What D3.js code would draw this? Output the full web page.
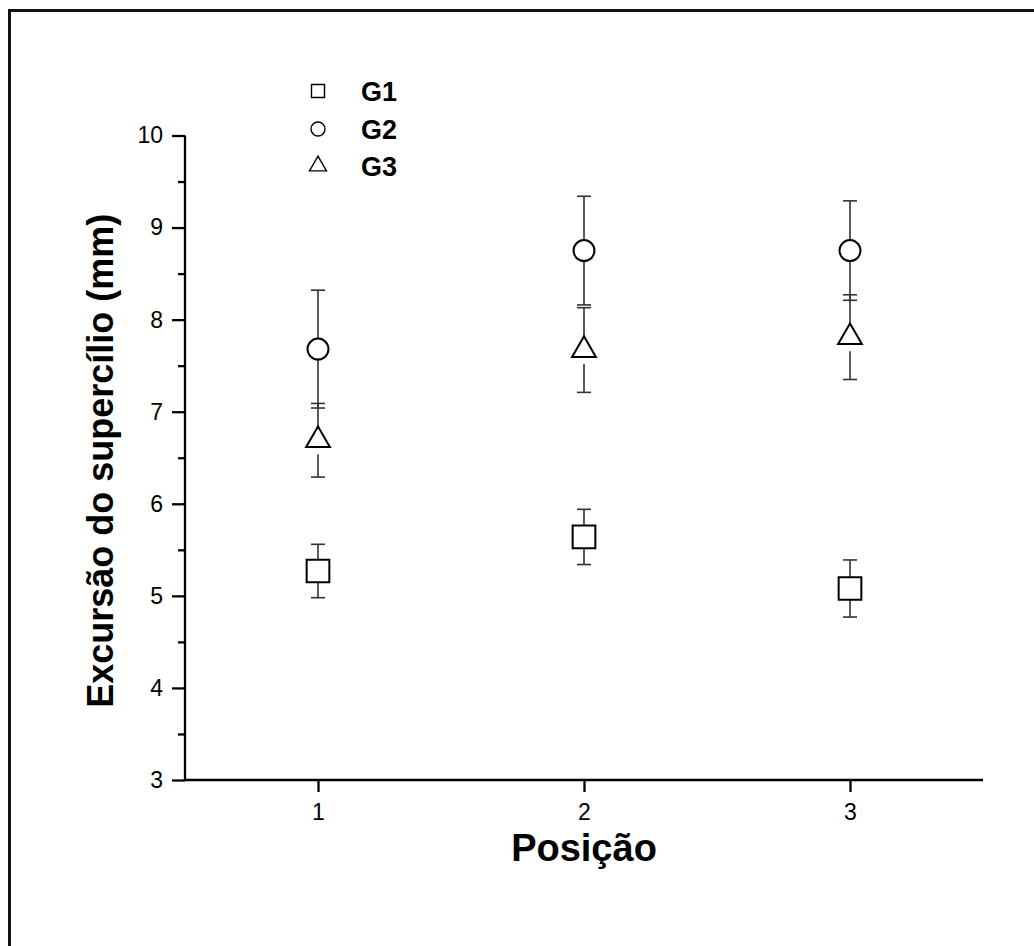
<!DOCTYPE html>
<html>
<head>
<meta charset="utf-8">
<script src="https://cdn.jsdelivr.net/npm/d3@7"></script>
<style>
  html, body { margin: 0; padding: 0; background: #fff; }
  svg { display: block; font-family: Arial, "Liberation Sans", Helvetica, sans-serif; }
</style>
</head>
<body>
<svg id="chart" width="1034" height="946"></svg>
<script>
// Brow excursion (mm) by position for three groups: mean ± error
const positions = [1, 2, 3];
const groupNames = ["G1", "G2", "G3"];
const g1Mean = [5.27, 5.64, 5.08];
const g1Err  = [0.29, 0.30, 0.31];
const g2Mean = [7.68, 8.75, 8.75];
const g2Err  = [0.64, 0.59, 0.54];
const g3Mean = [6.69, 7.67, 7.81];
const g3Err  = [0.40, 0.46, 0.46];
const yTicks = [3, 4, 5, 6, 7, 8, 9, 10];
const xTicks = [1, 2, 3];

const FONT = 'Arial, "Liberation Sans", Helvetica, sans-serif';
const svg = d3.select("#chart");

// frame around the figure
svg.append("rect")
  .attr("x", 9.5).attr("y", 10.5)
  .attr("width", 1200).attr("height", 1200)
  .attr("fill", "none").attr("stroke", "#111").attr("stroke-width", 3);

const x = d3.scaleLinear().domain([0.5, 3.5]).range([185, 983]);
const y = d3.scaleLinear().domain([3, 10]).range([780, 135.5]);

// marker definitions (symbol type, area, half-extent along the error bar)
const markers = {
  G1: { type: d3.symbolSquare,   size: 515, ext: 11.3 },
  G2: { type: d3.symbolCircle,   size: 346, ext: 10.5 },
  G3: { type: d3.symbolTriangle, size: 245, ext: 14 }
};

const series = [
  { name: "G1", mean: g1Mean, err: g1Err },
  { name: "G2", mean: g2Mean, err: g2Err },
  { name: "G3", mean: g3Mean, err: g3Err }
];

// axes
const yAxis = svg.append("g").attr("transform", `translate(${x(0.5)},0)`)
  .call(d3.axisLeft(y).tickValues(yTicks).tickSize(13).tickPadding(9).tickFormat(d3.format("d")));
const yMinor = svg.append("g").attr("transform", `translate(${x(0.5)},0)`)
  .call(d3.axisLeft(y).tickValues(d3.range(3.5, 10, 1)).tickSize(7).tickFormat(""));
const xAxis = svg.append("g").attr("transform", `translate(0,${y(3)})`)
  .call(d3.axisBottom(x).tickValues(xTicks).tickSize(12).tickPadding(12).tickFormat(d3.format("d")));

[yAxis, yMinor, xAxis].forEach(g => {
  g.attr("font-family", FONT).attr("font-size", 23);
  g.select(".domain").attr("stroke", "#000").attr("stroke-width", 2.3);
  g.selectAll(".tick line").attr("stroke", "#000").attr("stroke-width", 2.3);
  g.selectAll(".tick text").attr("fill", "#000");
});
// axes in this style have no end caps on the domain path
yAxis.select(".domain").attr("d", `M0,${y(10)}V${y(3)}`);
yMinor.select(".domain").remove();
xAxis.select(".domain").attr("d", `M${x(0.5)},0H${x(3.5)}`);

// axis titles
svg.append("text")
  .attr("transform", `translate(113,${(y(3) + y(10)) / 2 + 3}) rotate(-90)`)
  .attr("text-anchor", "middle")
  .style("font-size", "36px").style("font-weight", "bold")
  .text("Excursão do supercílio (mm)");
svg.append("text")
  .attr("x", x(2)).attr("y", 861)
  .attr("text-anchor", "middle")
  .style("font-size", "38px").style("font-weight", "bold")
  .text("Posição");

// error bars (drawn outside the marker box) and markers
const capHalf = 7;
series.forEach(s => {
  const m = markers[s.name];
  const g = svg.append("g");
  positions.forEach((p, i) => {
    const cx = x(p), cy = y(s.mean[i]);
    const yt = y(s.mean[i] + s.err[i]), yb = y(s.mean[i] - s.err[i]);
    const bars = g.append("g").attr("stroke", "#333").attr("stroke-width", 1.6).attr("fill", "none");
    bars.append("line").attr("x1", cx).attr("x2", cx).attr("y1", yt).attr("y2", cy - m.ext);
    bars.append("line").attr("x1", cx).attr("x2", cx).attr("y1", cy + m.ext).attr("y2", yb);
    bars.append("line").attr("x1", cx - capHalf).attr("x2", cx + capHalf).attr("y1", yt).attr("y2", yt);
    bars.append("line").attr("x1", cx - capHalf).attr("x2", cx + capHalf).attr("y1", yb).attr("y2", yb);
    g.append("path")
      .attr("transform", `translate(${cx},${cy})`)
      .attr("d", d3.symbol().type(m.type).size(m.size)())
      .attr("fill", "#fff").attr("stroke", "#000").attr("stroke-width", 2);
  });
});

// legend
const legendSizes = { G1: 169, G2: 154, G3: 125 };
const legendY = [91, 129, 166];
groupNames.forEach((name, i) => {
  svg.append("path")
    .attr("transform", `translate(318,${legendY[i]})`)
    .attr("d", d3.symbol().type(markers[name].type).size(legendSizes[name])())
    .attr("fill", "#fff").attr("stroke", "#000").attr("stroke-width", 1.4);
  svg.append("text")
    .attr("x", 361).attr("y", legendY[i] + 9.5)
    .style("font-size", "27px").style("font-weight", "bold")
    .text(name);
});
</script>
</body>
</html>
